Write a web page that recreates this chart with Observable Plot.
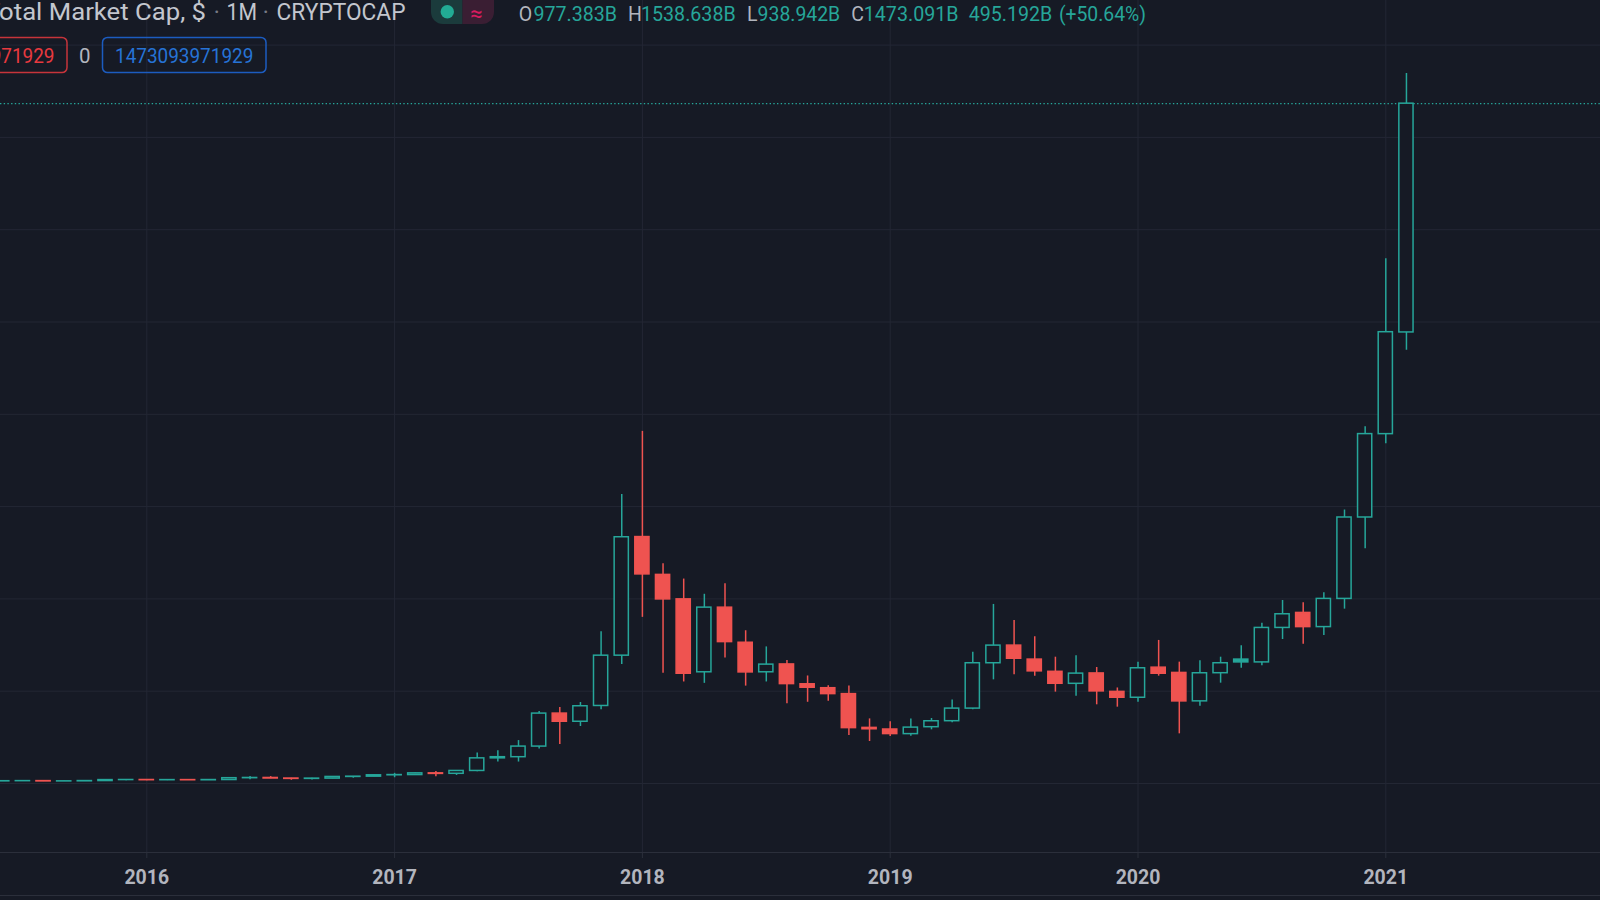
<!DOCTYPE html>
<html><head><meta charset="utf-8">
<script src="https://cdn.jsdelivr.net/npm/d3@7"></script>
<script src="https://cdn.jsdelivr.net/npm/@observablehq/plot@0.6"></script>
<style>
html,body{margin:0;padding:0;background:#161a25;overflow:hidden;}
#wrap{position:relative;width:1600px;height:900px;background:#161a25;font-family:Roboto,sans-serif;overflow:hidden;}
#chart{position:absolute;left:0;top:0;}
#hdr{position:absolute;left:0;top:0;}
.hline{position:absolute;left:0;width:1600px;height:1px;background:#2b2f3b;}
g[aria-label="x-axis tick label"] text{font-weight:bold;}
</style></head><body>
<div id="wrap"><div id="chart"></div><svg id="hdr" width="1600" height="80"></svg>
<div class="hline" style="top:852px"></div><div class="hline" style="top:895px"></div></div>
<script>
// Monthly candles, values in billions of USD
const months = ["2015-06","2015-07","2015-08","2015-09","2015-10","2015-11","2015-12",
"2016-01","2016-02","2016-03","2016-04","2016-05","2016-06","2016-07","2016-08","2016-09","2016-10","2016-11","2016-12",
"2017-01","2017-02","2017-03","2017-04","2017-05","2017-06","2017-07","2017-08","2017-09","2017-10","2017-11","2017-12",
"2018-01","2018-02","2018-03","2018-04","2018-05","2018-06","2018-07","2018-08","2018-09","2018-10","2018-11","2018-12",
"2019-01","2019-02","2019-03","2019-04","2019-05","2019-06","2019-07","2019-08","2019-09","2019-10","2019-11","2019-12",
"2020-01","2020-02","2020-03","2020-04","2020-05","2020-06","2020-07","2020-08","2020-09","2020-10","2020-11","2020-12",
"2021-01","2021-02"];
const open = [4.6,5.0,5.2,4.5,4.7,5.3,7.4,
7.6,7.1,7.4,7.0,7.5,11.5,12.0,10.8,10.0,10.6,14.2,14.8,
17.8,18.3,22.0,21.0,27.2,54.5,57.0,80.0,151.5,133.8,168.0,277.0,
534,452,399,241,381,305,241,258,215,206.5,193.7,120.5,
117,107,122,135,162.3,260.6,298.8,268.5,242,216,238.5,198.5,
185.8,251,239.6,178,239,268.5,262.4,337.1,369.6,338.9,400,576.4,
757,977.383];
const high = [5.3,5.5,5.4,4.8,5.5,8.5,8.2,
8.0,7.8,7.7,7.7,12.0,15.0,15.0,11.2,11.2,14.5,15.0,18.2,
22.0,22.6,26.0,28.2,66.0,71.0,93.0,156.0,164.7,175.5,329.0,626.0,
763,476,443,410,433,331,296,266.5,233,211.6,211,140,
134,140,140.8,181,284.6,388,353,317.8,273.7,276.6,251.3,207,
263,310,263,265.8,273.7,298.3,347.4,396.5,391.5,413.1,592.6,773,
1137,1538.638];
const low = [4.3,4.7,4.2,4.3,4.6,5.0,6.0,
5.8,6.2,6.9,6.9,7.3,8.0,10.5,7.0,7.5,10.3,11.5,14.5,
12.5,17.8,14.5,17.5,25.5,46.5,46.5,74.5,84.5,123.5,160,258,
360,239,220,217,272,211,220,173,176,178.4,104,91,
102,102.6,116.3,131.5,160,224.6,235.5,232.6,198,189,170.5,165.4,
176,232.6,107.6,167.6,217.4,249.9,255,312,301.9,320.7,377.8,508.5,
736,938.942];
const close = [5.0,5.2,4.5,4.7,5.3,7.4,7.6,
7.1,7.4,7.0,7.5,11.5,12.0,10.8,10.0,10.6,14.2,14.8,17.8,
18.3,22.0,20.8,27.2,54.5,57.0,80.0,151.5,133.8,167.4,277,533.6,
453.1,398.9,237.8,381.1,306.4,240.7,257.6,215.4,207.5,193.7,120,117.5,
107.1,121.1,134.9,162.3,260.6,298.8,270.3,243,216.1,238.1,199.6,185.8,
249.7,237.8,177.9,238.9,260.6,262.4,337.1,366.7,338.9,400,576.4,757.1,
977.899,1473.091];
const yearLabels = ["2016","2017","2018","2019","2020","2021"];
const yearMonths = ["2016-01","2017-01","2018-01","2019-01","2020-01","2021-01"];
const gridValues = [0,200,400,600,800,1000,1200,1400,1600];

const BG = "#161a25", TEAL = "#26a69a", RED = "#ef5350", GRID = "#232734", AXIS = "#2b2f3b";
const yearIdx = yearMonths.map(m => months.indexOf(m));

const rows = months.map((m, i) => {
  const prev = i > 0 ? close[i - 1] : open[i];
  return {i, month: m, o: open[i], h: high[i], l: low[i], c: close[i], prev,
    color: close[i] >= prev ? TEAL : RED, hollow: close[i] >= open[i]};
});
const half = 0.344;

const chart = Plot.plot({
  width: 1600, height: 900,
  marginTop: 0, marginRight: 0, marginBottom: 48, marginLeft: 0,
  style: {background: "transparent", fontFamily: "Roboto, sans-serif", overflow: "hidden"},
  x: {type: "linear", domain: [0, months.length - 1], range: [1.75, 1405.95], label: null},
  y: {type: "linear", domain: [0, 1600], range: [783, 44.6], axis: null, label: null},
  marks: [
    Plot.ruleY(gridValues, {stroke: GRID, strokeWidth: 1}),
    Plot.ruleX(yearIdx, {stroke: GRID, strokeWidth: 1}),
    Plot.ruleY([close[close.length - 1]], {stroke: TEAL, strokeWidth: 1.2, strokeDasharray: "1.4 2.3"}),
    Plot.ruleX(rows, {x: "i", y1: "l", y2: "h", stroke: "color", strokeWidth: 1.5}),
    Plot.rect(rows, {x1: d => d.i - half, x2: d => d.i + half, y1: "o", y2: "c",
      fill: d => d.hollow ? BG : d.color, stroke: "color", strokeWidth: 1.5}),
    Plot.axisX({ticks: yearIdx, tickFormat: d => yearLabels[yearIdx.indexOf(d)], anchor: "bottom", label: null,
      tickSize: 6, tickPadding: 12, fontSize: 19.5, fontWeight: "bold", color: "#b2b5be", stroke: AXIS})
  ]
});
document.getElementById("chart").appendChild(chart);

// Header legend
const hdr = d3.select("#hdr").style("font-family", "Roboto, sans-serif");
function txt(x, y, s, o = {}) {
  const t = hdr.append("text").attr("x", x).attr("y", y).text(s)
    .attr("font-size", o.size || 19.5).attr("fill", o.fill || "#b2b5be")
    .attr("text-anchor", o.anchor || "start");
  if (o.len) t.attr("textLength", o.len).attr("lengthAdjust", "spacingAndGlyphs");
  if (o.db) t.attr("dominant-baseline", o.db);
  return t;
}
const TITLE = "#c3c6ce", SEP = "#787b86";
txt(-15, 20, "Total Market Cap, $", {size: 23, fill: TITLE, len: 221});
txt(216.7, 20, "·", {size: 23, fill: SEP, anchor: "middle"});
txt(226.5, 20, "1M", {size: 23, fill: TITLE, len: 30.5});
txt(265.7, 20, "·", {size: 23, fill: SEP, anchor: "middle"});
txt(276.5, 20, "CRYPTOCAP", {size: 23, fill: TITLE, len: 129});

// toggle pill
const clip = hdr.append("clipPath").attr("id", "pillclip");
clip.append("rect").attr("x", 431).attr("y", -14).attr("width", 63).attr("height", 38).attr("rx", 12);
const pill = hdr.append("g").attr("clip-path", "url(#pillclip)");
pill.append("rect").attr("x", 431).attr("y", -14).attr("width", 31.5).attr("height", 38).attr("fill", "#1b3b3c");
pill.append("rect").attr("x", 462.5).attr("y", -14).attr("width", 31.5).attr("height", 38).attr("fill", "#3a1e33");
hdr.append("circle").attr("cx", 447.3).attr("cy", 11.7).attr("r", 6.7).attr("fill", "#22ab94");
txt(476.5, 13, "≈", {size: 22, fill: "#d81b60", anchor: "middle", db: "central"});

// OHLC values
const ohlcLabels = ["O", "H", "L", "C"];
const ohlcX = [518.75, 628, 747, 851.3];
const ohlcValX = [533.5, 641, 757.6, 863.8];
const ohlcValLen = [83.5, 94.7, 82.6, 94.7];
const last = rows[rows.length - 1];
const ohlcVals = [last.o, last.h, last.l, last.c];
ohlcLabels.forEach((lab, k) => {
  txt(ohlcX[k], 20.7, lab, {fill: "#b2b5be"});
  txt(ohlcValX[k], 20.7, ohlcVals[k].toFixed(3) + "B", {fill: TEAL, len: ohlcValLen[k]});
});
const chg = last.c - last.prev;
txt(968.75, 20.7, chg.toFixed(3) + "B", {fill: TEAL, len: 83.5});
txt(1058.9, 20.7, "(+" + (chg / last.prev * 100).toFixed(2) + "%)", {fill: TEAL, len: 87.1});

// second row boxes
const volStr = "1473093971929";
hdr.append("rect").attr("x", -10).attr("y", 37.4).attr("width", 77).attr("height", 35.2).attr("rx", 5)
  .attr("fill", "none").attr("stroke", "#c6343b").attr("stroke-width", 1.5);
txt(54.5, 63.3, volStr, {size: 20.5, fill: "#e8393f", anchor: "end", len: 138.3});
txt(84.7, 63.3, "0", {size: 20.5, fill: "#b2b5be", anchor: "middle"});
hdr.append("rect").attr("x", 102.5).attr("y", 37.4).attr("width", 163.5).attr("height", 35.2).attr("rx", 5)
  .attr("fill", "none").attr("stroke", "#1c5cc0").attr("stroke-width", 1.5);
txt(115, 63.3, volStr, {size: 20.5, fill: "#2673d6", len: 138.3});
</script>
</body></html>
